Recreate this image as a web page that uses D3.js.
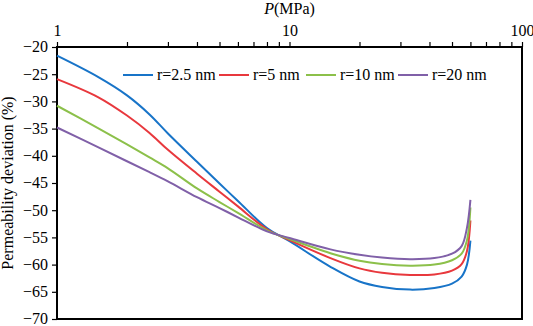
<!DOCTYPE html>
<html><head><meta charset="utf-8">
<script src="https://cdn.jsdelivr.net/npm/d3@7"></script>
<style>body{margin:0;background:#fff}svg{display:block}</style>
</head><body><svg id="c" width="533" height="326"></svg>
<script>
const seriesNames = ["r=2.5 nm", "r=5 nm", "r=10 nm", "r=20 nm"];
const colors = ["#1874c8", "#e8383d", "#8cc04a", "#8060a8"];
const pressure = [1, 1.5, 2, 2.5, 3, 4, 5, 6, 8, 10, 15, 20, 25, 33, 42, 50, 55, 58, 60];
const blue   = [-21.6, -25.5, -28.9, -32.4, -35.9, -41.1, -45.1, -48.3, -53.3, -55.7, -60.4, -63.1, -64.1, -64.6, -64.3, -63.5, -62.2, -60.0, -55.6];
const red    = [-25.9, -29.2, -32.6, -35.8, -38.9, -43.3, -46.6, -49.3, -53.5, -55.5, -58.8, -60.7, -61.5, -61.9, -61.8, -61.1, -59.9, -57.5, -51.9];
const green  = [-30.8, -34.9, -37.9, -40.3, -42.3, -46.0, -48.5, -50.5, -53.7, -55.3, -57.9, -59.3, -59.9, -60.2, -60.0, -59.2, -58.0, -55.5, -49.5];
const purple = [-34.8, -38.4, -41.0, -43.0, -44.7, -47.6, -49.6, -51.3, -53.9, -55.1, -57.2, -58.2, -58.7, -59.0, -58.8, -58.0, -56.6, -53.2, -48.1];
const yTicks = [-70, -65, -60, -55, -50, -45, -40, -35, -30, -25, -20];
const xTickLabels = [1, 10, 100];

const FONT = "Liberation Serif";
const series = [blue, red, green, purple];
const svg = d3.select("#c");
const L = 57, R = 522, T = 47, B = 319;
const x = d3.scaleLog().domain([1, 100]).range([L, R]);
const y = d3.scaleLinear().domain([-70, -20]).range([B, T]);

const xt = [];
for (let d = 1; d < 100; d *= 10) for (let k = 1; k < 10; k++) xt.push(d * k);
xt.push(100);
const gx = svg.append("g").attr("transform", `translate(0,${T})`)
  .call(d3.axisTop(x).tickValues(xt).tickSize(5).tickSizeOuter(0)
    .tickFormat(d => xTickLabels.includes(d) ? String(d) : ""));
gx.attr("font-family", FONT).attr("font-size", 16);
gx.selectAll("text").attr("fill", "#000").attr("y", -11);
gx.selectAll("line").attr("stroke", "#000").attr("stroke-width", 1.2);
gx.select(".domain").remove();

const gy = svg.append("g").attr("transform", `translate(${L},0)`)
  .call(d3.axisLeft(y).tickValues(yTicks).tickSize(5).tickSizeOuter(0));
gy.attr("font-family", FONT).attr("font-size", 16);
gy.selectAll("text").attr("fill", "#000").attr("x", -9).attr("dy", "0.3em");
gy.selectAll("line").attr("stroke", "#000").attr("stroke-width", 1.2);
gy.select(".domain").remove();

svg.append("rect").attr("x", L).attr("y", T).attr("width", R - L).attr("height", B - T)
  .attr("fill", "none").attr("stroke", "#000").attr("stroke-width", 2);

const line = d3.line().x(d => x(d[0])).y(d => y(d[1])).curve(d3.curveCatmullRom.alpha(0.5));
series.forEach((s, i) => {
  svg.append("path").datum(pressure.map((p, j) => [p, s[j]]))
    .attr("d", line).attr("fill", "none").attr("stroke", colors[i]).attr("stroke-width", 2);
});

const legX = [123, 219, 306, 398];
seriesNames.forEach((n, i) => {
  const g = svg.append("g").attr("transform", `translate(${legX[i]},75)`);
  g.append("line").attr("x1", 0).attr("x2", 30).attr("stroke", colors[i]).attr("stroke-width", 2);
  g.append("text").attr("x", 34).attr("y", 5).attr("font-family", FONT).attr("font-size", 16).text(n);
});

const xtTitle = svg.append("text").attr("x", x(10)).attr("y", 14).attr("text-anchor", "middle")
  .attr("font-family", FONT).attr("font-size", 16);
xtTitle.append("tspan").attr("font-style", "italic").text("P");
xtTitle.append("tspan").text("(MPa)");
svg.append("text").attr("transform", `translate(13,${(T + B) / 2}) rotate(-90)`)
  .attr("text-anchor", "middle").attr("font-family", FONT).attr("font-size", 16)
  .text("Permeability deviation (%)");
</script></body></html>
